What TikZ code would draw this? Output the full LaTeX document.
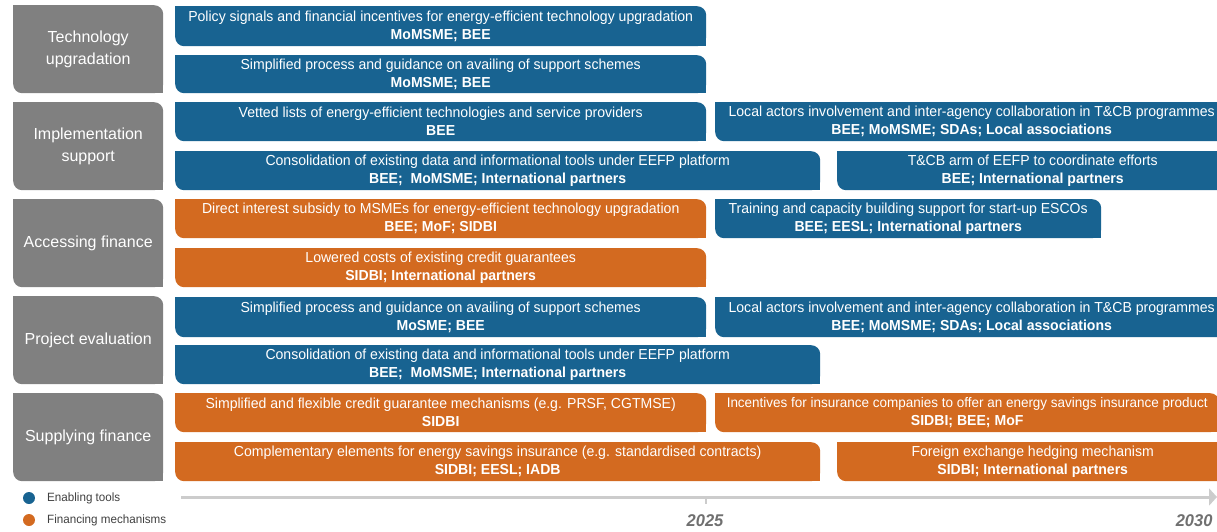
\documentclass[tikz,border=0pt]{standalone}
\usepackage{fontspec}
\setmainfont{Liberation Sans}
\newfontfamily\barfont{Liberation Sans}[FakeStretch=0.97]
\usepackage{tikz}
\usetikzlibrary{calc}
\usetikzlibrary{arrows.meta}

\definecolor{toolblue}{RGB}{24,99,145}
\definecolor{finorange}{RGB}{211,106,32}
\definecolor{catgray}{RGB}{128,128,128}
\definecolor{axisgray}{RGB}{204,204,204}
\definecolor{yeargray}{RGB}{112,112,112}

\tikzset{
	category/.style={fill=catgray, rounded corners=9pt, text=white, align=center, inner sep=0pt,
		minimum width=150pt, minimum height=88pt, anchor=north west, font=\fontsize{16}{22}\selectfont},
	measure/.style={rounded corners=9pt, text=white, align=center, inner sep=0pt, anchor=north west,
		font=\barfont\fontsize{14.5}{18}\selectfont},
	legenddot/.style={circle, inner sep=0pt, minimum size=12pt},
	legendtext/.style={anchor=west, text=black!75, inner sep=2pt, font=\barfont\fontsize{12}{14}\selectfont},
	year/.style={text=yeargray, font=\barfont\fontsize{17}{20}\bfseries\itshape\selectfont},
	timeline/.style={draw=axisgray, line width=3pt, -{Triangle[length=8pt,width=17pt]}},
}

% name, colour, left, top, right, bottom, measure, actors
\newcommand{\measurebar}[8]{%
	\fill[#2] (#3,#4) rectangle ++(10,10);
	\fill[#2] (#5,#6) rectangle ++(-10,-10);
	\node[measure, fill=#2, minimum width={(#5-#3)*1pt}, minimum height={(#6-#4)*1pt}] at (#3,#4) (#1) {#7\\\textbf{#8}};
}

\begin{document}
\begin{tikzpicture}[x=1pt,y=-1pt]
	\useasboundingbox (0,0) rectangle (1217,532);

	\foreach \cat/\ytop/\txt in {techup/5/{Technology\\upgradation}, implsup/102/{Implementation\\support},
		accfin/199/{Accessing finance}, projeval/296/{Project evaluation}, supfin/393/{Supplying finance}}{
		\fill[catgray] (13,\ytop) rectangle ++(10,10);
		\fill[catgray] (163,\ytop+88) rectangle ++(-10,-10);
		\node[category] at (13,\ytop) (\cat) {\txt};
	}

	\measurebar{policy}{toolblue}{175}{6}{706}{46}{Policy signals and financial incentives for energy-efficient technology upgradation}{MoMSME; BEE}
	\measurebar{guidetech}{toolblue}{175}{55}{706}{93}{Simplified process and guidance on availing of support schemes}{MoMSME; BEE}

	\measurebar{vetted}{toolblue}{175}{102}{706}{141}{Vetted lists of energy-efficient technologies and service providers}{BEE}
	\measurebar{localimpl}{toolblue}{715}{102}{1228}{141}{Local actors involvement and inter-agency collaboration in T\&CB programmes}{BEE; MoMSME; SDAs; Local associations}
	\measurebar{eefpimpl}{toolblue}{175}{151}{820}{190}{Consolidation of existing data and informational tools under EEFP platform}{BEE;\ \ MoMSME; International partners}
	\measurebar{tcbarm}{toolblue}{837}{151}{1228}{190}{T\&CB arm of EEFP to coordinate efforts}{BEE; International partners}

	\measurebar{subsidy}{finorange}{175}{199}{706}{238}{Direct interest subsidy to MSMEs for energy-efficient technology upgradation}{BEE; MoF; SIDBI}
	\measurebar{escos}{toolblue}{715}{199}{1101}{238}{Training and capacity building support for start-up ESCOs}{BEE; EESL; International partners}
	\measurebar{lowcost}{finorange}{175}{248}{706}{287}{Lowered costs of existing credit guarantees}{SIDBI; International partners}

	\measurebar{guideproj}{toolblue}{175}{297}{706}{337}{Simplified process and guidance on availing of support schemes}{MoSME; BEE}
	\measurebar{localproj}{toolblue}{715}{297}{1228}{337}{Local actors involvement and inter-agency collaboration in T\&CB programmes}{BEE; MoMSME; SDAs; Local associations}
	\measurebar{eefpproj}{toolblue}{175}{345}{820}{384}{Consolidation of existing data and informational tools under EEFP platform}{BEE;\ \ MoMSME; International partners}

	\measurebar{guarantee}{finorange}{175}{393}{706}{432}{Simplified and flexible credit guarantee mechanisms (e.g. PRSF, CGTMSE)}{SIDBI}
	\measurebar{insurance}{finorange}{715}{393}{1219}{432}{\fontsize{13.9}{18}\selectfont Incentives for insurance companies to offer an energy savings insurance product}{SIDBI; BEE; MoF}
	\measurebar{contracts}{finorange}{175}{442}{820}{481}{Complementary elements for energy savings insurance (e.g. standardised contracts)}{SIDBI; EESL; IADB}
	\measurebar{hedging}{finorange}{837}{442}{1228}{481}{Foreign exchange hedging mechanism}{SIDBI; International partners}

	% timeline
	\coordinate (axisstart) at (181,497);
	\coordinate (axisend) at (1217,497);
	\coordinate (tick) at (706,497);
	\coordinate (tickend) at (706,504);
	\draw[timeline] (axisstart) -- (axisend);
	\draw[axisgray, line width=2pt] (tick) -- (tickend);
	\node[year] at (705,521) (y2025) {2025};
	\node[year, anchor=east] at (1216,521) (y2030) {2030};

	% legend
	\node[legenddot, fill=toolblue] at (29,498) (dotblue) {};
	\node[legenddot, fill=finorange] at (29,520) (dotorange) {};
	\node[legendtext] at (45,498) (enabling) {Enabling tools};
	\node[legendtext] at (45,520) (financing) {Financing mechanisms};
\end{tikzpicture}
\end{document}
